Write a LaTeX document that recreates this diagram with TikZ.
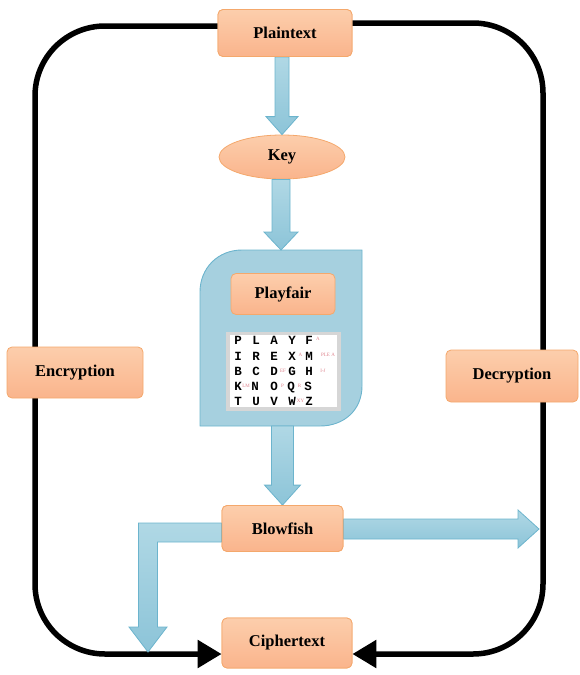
\documentclass[tikz,border=0pt]{standalone}
\usepackage{fontspec}
\setmainfont{Liberation Serif}
\newfontfamily\gridfont{Liberation Mono}
\usetikzlibrary{calc,shapes.geometric,arrows.meta}
\definecolor{orTop}{RGB}{252,206,172}
\definecolor{orBot}{RGB}{250,180,140}
\definecolor{orLine}{RGB}{244,168,108}
\definecolor{blTop}{RGB}{176,216,229}
\definecolor{blBot}{RGB}{140,196,216}
\definecolor{blLine}{RGB}{108,180,205}
\definecolor{contFill}{RGB}{166,208,223}
\definecolor{pinkA}{RGB}{222,130,140}
\tikzset{
  obox/.style={draw=orLine, line width=0.8pt, top color=orTop, bottom color=orBot,
    rounded corners=5pt, font=\fontsize{16.5}{19}\selectfont\bfseries, align=center},
  blockarrow/.style={draw=blLine, line width=0.8pt, top color=blTop, bottom color=blBot},
  loopline/.style={line width=5.5pt, draw=black, rounded corners=70pt},
  bigtip/.style={-{Triangle[length=24pt,width=27pt]}},
  glet/.style={font=\gridfont\fontsize{12.5}{13}\selectfont\bfseries, inner sep=0pt,
    text height=9pt, text depth=0pt},
  pnk/.style={font=\fontsize{5}{5}\selectfont, text=pinkA, inner sep=0pt}
}
\newcommand\vblk[5]{%
  \path[blockarrow] let \p1=(#1), \p2=(#2) in
   (\x2-#3,\y1) -- (\x2+#3,\y1) -- (\x2+#3,\y2+#5) -- (\x2+#4,\y2+#5) -- (\x2,\y2)
   -- (\x2-#4,\y2+#5) -- (\x2-#3,\y2+#5) -- cycle;}
\begin{document}
\begin{tikzpicture}[x=1pt,y=-1pt]
\useasboundingbox (0,0) rectangle (579,675);

% nodes (positions)
\node[obox, minimum width=134pt, minimum height=47pt] (plain) at (285,33) {Plaintext};
\node[obox, ellipse, rounded corners=0pt, minimum width=126pt, minimum height=44pt] (key) at (282,157) {Key};
\coordinate (ctop) at (281,250);
\coordinate (cbot) at (281,426);
\node[obox, minimum width=121pt, minimum height=46pt] (blow) at (282.5,528.5) {Blowfish};
\node[obox, minimum width=130pt, minimum height=50pt] (ciph) at (287,643) {Ciphertext};
\coordinate (rtip) at (539,529);
\coordinate (lbend) at (148,532.5);
\coordinate (ltip) at (148,652);

% black loop
\draw[loopline, bigtip] ([yshift=7pt]plain.west) -| (35,400) |- ([yshift=-11pt]ciph.west);
\draw[loopline, bigtip] ([yshift=10pt]plain.east) -| (543,400) |- ([yshift=-11pt]ciph.east);

% container
\path[draw=blLine, line width=0.9pt, fill=contFill]
  (200,426) -- (200,292) .. controls (200,268) and (218,250) .. (242,250)
  -- (362,250) -- (362,386) .. controls (362,410) and (344,426) .. (320,426) -- cycle;

% blue block arrows
\vblk{plain.south}{key.north}{7pt}{16pt}{18pt}
\vblk{key.south}{ctop}{9pt}{17pt}{18pt}
\vblk{cbot}{blow.north}{11pt}{18pt}{20pt}
\path[blockarrow] let \p1=(blow.east), \p2=(rtip) in
  (\x1,\y2+10pt) -- (\x2-21pt,\y2+10pt) -- (\x2-21pt,\y2+19pt) -- (\x2,\y2)
  -- (\x2-21pt,\y2-19pt) -- (\x2-21pt,\y2-10pt) -- (\x1,\y2-10pt) -- cycle;
\path[blockarrow] let \p1=(blow.west), \p2=(ltip), \p3=(lbend) in
  (\x1,\y3+9.5pt) -- (\x3-9.5pt,\y3+9.5pt) -- (\x3-9.5pt,\y2+25pt) -- (\x3-19pt,\y2+25pt)
  -- (\x2,\y2) -- (\x3+19pt,\y2+25pt) -- (\x3+9.5pt,\y2+25pt) -- (\x3+9.5pt,\y3-9.5pt)
  -- (\x1,\y3-9.5pt) -- cycle;

% redraw boxes on top
\node[obox, minimum width=134pt, minimum height=47pt] at (plain) {Plaintext};
\node[obox, minimum width=121pt, minimum height=46pt] at (blow) {Blowfish};
\node[obox, minimum width=130pt, minimum height=50pt] at (ciph) {Ciphertext};
\node[obox, minimum width=104pt, minimum height=41pt] (pf) at (283,294) {Playfair};
\node[obox, minimum width=136pt, minimum height=51pt] (enc) at (75,372.5) {Encryption};
\node[obox, minimum width=132pt, minimum height=52pt] (dec) at (512,376) {Decryption};

% Playfair grid
\fill[gray!32] (226,332) rectangle (341,411);
\fill[white] (230,335) rectangle (337,407);
\node[glet] (g11) at (238,340) {P}; \node[glet] (g12) at (256,340) {L}; \node[glet] (g13) at (274,340) {A}; \node[glet] (g14) at (292,340) {Y}; \node[glet] (g15) at (309,340) {F};
\node[glet] (g21) at (238,355.5) {I}; \node[glet] (g22) at (256,355.5) {R}; \node[glet] (g23) at (274,355.5) {E}; \node[glet] (g24) at (292,355.5) {X}; \node[glet] (g25) at (309,355.5) {M};
\node[glet] (g31) at (238,371) {B}; \node[glet] (g32) at (256,371) {C}; \node[glet] (g33) at (274,371) {D}; \node[glet] (g34) at (292,371) {G}; \node[glet] (g35) at (309,371) {H};
\node[glet] (g41) at (238,386) {K}; \node[glet] (g42) at (255,386) {N}; \node[glet] (g43) at (274,386) {O}; \node[glet] (g44) at (291,386) {Q}; \node[glet] (g45) at (308,386) {S};
\node[glet] (g51) at (238,401) {T}; \node[glet] (g52) at (256,401) {U}; \node[glet] (g53) at (274,401) {V}; \node[glet] (g54) at (292,401) {W}; \node[glet] (g55) at (309,401) {Z};
\node[pnk] (p1) at (318,339) {A};
\node[pnk] (p2) at (300.5,355) {A};
\node[pnk] (p3) at (328,355) {PLE A};
\node[pnk] (p4) at (283,370.5) {EF};
\node[pnk] (p5) at (323,370.5) {I-J};
\node[pnk] (p6) at (246,385.5) {LM};
\node[pnk] (p7) at (282.5,385.5) {P};
\node[pnk] (p8) at (299.5,385.5) {R};
\node[pnk] (p9) at (300.5,400.5) {XY};
\end{tikzpicture}
\end{document}
